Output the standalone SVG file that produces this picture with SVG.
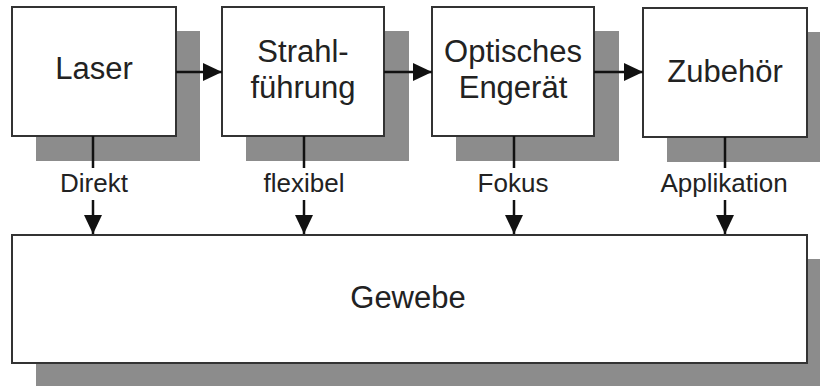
<svg xmlns="http://www.w3.org/2000/svg" width="820" height="386" viewBox="0 0 820 386">
  <defs>
    <marker id="arrow" markerUnits="userSpaceOnUse" markerWidth="19" markerHeight="18" refX="19" refY="9" orient="auto">
      <path d="M0,0 L19,9 L0,18 Z" fill="#111"/>
    </marker>
  </defs>
  <style>
    .shadow { fill: #8c8c8c; }
    .box { fill: #fff; stroke: #333; stroke-width: 2; }
    .title { font-family: "Liberation Sans", Arial, sans-serif; font-size: 31px; fill: #222; text-anchor: middle; }
    .label { font-family: "Liberation Sans", Arial, sans-serif; font-size: 26px; fill: #222; text-anchor: middle; }
    .link { stroke: #111; stroke-width: 2.5; fill: none; }
    .arrow { marker-end: url(#arrow); }
  </style>
  <rect width="820" height="386" fill="#fff"/>

  <g id="laser">
    <rect class="shadow" x="36" y="31" width="164" height="130"/>
    <rect class="box" x="12" y="7" width="164" height="129"/>
    <text class="title" x="94" y="79">Laser</text>
  </g>

  <g id="strahlfuehrung">
    <rect class="shadow" x="246" y="31" width="163" height="130"/>
    <rect class="box" x="222" y="7" width="162" height="129"/>
    <text class="title" x="303" y="62">Strahl-</text>
    <text class="title" x="303" y="98">führung</text>
  </g>

  <g id="optisches-endgeraet">
    <rect class="shadow" x="456" y="31" width="163" height="130"/>
    <rect class="box" x="432" y="7" width="162" height="129"/>
    <text class="title" x="513" y="62">Optisches</text>
    <text class="title" x="513" y="98">Engerät</text>
  </g>

  <g id="zubehoer">
    <rect class="shadow" x="667" y="32" width="164" height="130"/>
    <rect class="box" x="643" y="8" width="164" height="129"/>
    <text class="title" x="725" y="82">Zubehör</text>
  </g>

  <g id="gewebe">
    <rect class="shadow" x="36" y="259" width="795" height="128"/>
    <rect class="box" x="12" y="235" width="795" height="128"/>
    <text class="title" x="408" y="308">Gewebe</text>
  </g>

  <g id="connectors">
    <line class="link arrow" x1="176" y1="72" x2="222" y2="72"/>
    <line class="link arrow" x1="384" y1="72" x2="432" y2="72"/>
    <line class="link arrow" x1="594" y1="72" x2="643" y2="72"/>

    <line class="link" x1="93" y1="136" x2="93" y2="168"/>
    <line class="link arrow" x1="93" y1="200" x2="93" y2="234"/>
    <line class="link" x1="304" y1="136" x2="304" y2="168"/>
    <line class="link arrow" x1="304" y1="200" x2="304" y2="234"/>
    <line class="link" x1="514" y1="136" x2="514" y2="168"/>
    <line class="link arrow" x1="514" y1="200" x2="514" y2="234"/>
    <line class="link" x1="725" y1="137" x2="725" y2="168"/>
    <line class="link arrow" x1="725" y1="200" x2="725" y2="234"/>

    <text class="label" x="94" y="192">Direkt</text>
    <text class="label" x="304" y="192">flexibel</text>
    <text class="label" x="513" y="192">Fokus</text>
    <text class="label" x="724" y="192">Applikation</text>
  </g>
</svg>
